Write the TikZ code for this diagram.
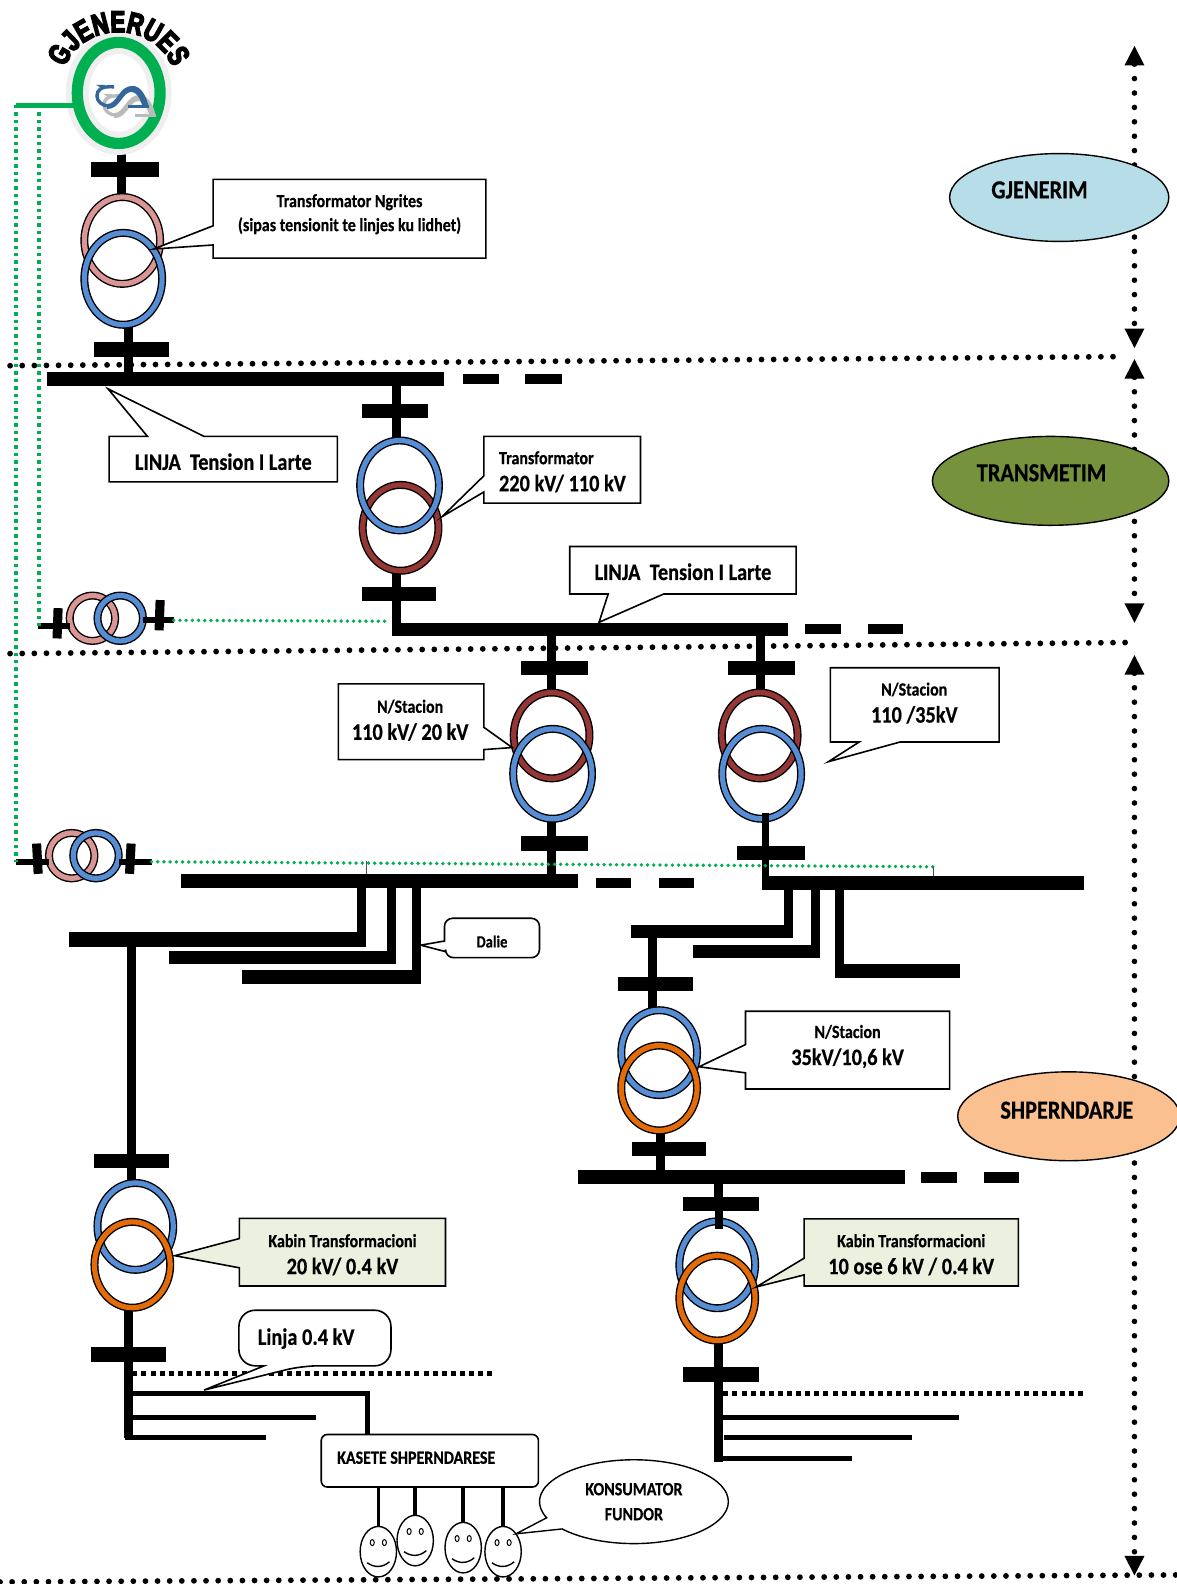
\documentclass[tikz,border=0pt]{standalone}
\usepackage{fontspec}
\usetikzlibrary{shapes.geometric,shapes.callouts,arrows.meta,decorations.text,calc}
\setmainfont{Carlito}
\newfontfamily\labfont[FakeStretch=0.86,FakeBold=0.5]{Carlito Bold}
\newfontfamily\gjfont[FakeStretch=0.74,FakeBold=5]{Liberation Sans Bold}
\newcommand\fs{\labfont\fontsize{9.3}{13.5}\selectfont}
\newcommand\fl{\labfont\fontsize{11.8}{13.5}\selectfont}
\newcommand\fo{\labfont\fontsize{13}{15}\selectfont}
\def\ux{0.5051pt}
\definecolor{rpink}{HTML}{D99694}
\definecolor{rblue}{HTML}{558ED5}
\definecolor{rbrown}{HTML}{953735}
\definecolor{rorange}{HTML}{E36C09}
\definecolor{rgreen}{HTML}{00B050}
\definecolor{lblue}{HTML}{B7DEE8}
\definecolor{olive}{HTML}{76923C}
\definecolor{peach}{HTML}{FAC090}
\definecolor{lgreen}{HTML}{EBF1DE}
\definecolor{halo}{HTML}{EFEFEF}
\definecolor{logob}{HTML}{336699}
\definecolor{logog}{HTML}{BBBBBB}
\pgfdeclarelayer{back}
\pgfsetlayers{back,main}
\tikzset{
 bus/.style={fill=black,draw=none,inner sep=0,outer sep=0},
 stem/.style={line width=4.5pt,black},
 feeder/.style={line width=2.5pt,black},
 ring/.style={ellipse,inner sep=0,outer sep=0,draw=black,line width=0.7pt,double=#1,double distance=2.6pt},
 tagbox/.style={draw=black,line width=0.8pt,fill=white,line join=miter},
 tagtext/.style={inner sep=0,outer sep=0,align=center,font=\fs},
 oval/.style={ellipse,draw=black,line width=0.7pt,inner sep=0,outer sep=0,font=\fo},
 gdot/.style={rgreen,line width=1.7pt,dash pattern=on 1.7pt off 2pt},
 rdot/.style={rgreen,line width=1.9pt,line cap=round,dash pattern=on 0pt off 3.1pt},
 blackdot/.style={black,line width=2.9pt,line cap=round,dash pattern=on 0pt off 6.06pt},
 sidedot/.style={black,line width=2.8pt,line cap=round,dash pattern=on 0pt off 7.2pt,
   {Triangle[width=9.2pt,length=10pt]}-{Triangle[width=9.2pt,length=10pt]}},
 squaredot/.style={black,line width=2.5pt,dash pattern=on 2.5pt off 2.05pt},
 thinv/.style={line width=0.4pt,black!70},
 face/.style={ellipse,draw=black,line width=0.7pt,fill=white,inner sep=0,outer sep=0,minimum width=36*\ux,minimum height=50*\ux},
 eye/.style={ellipse,draw=black,line width=0.5pt,fill=white,inner sep=0,outer sep=0,minimum width=4*\ux,minimum height=6*\ux},
 wire/.style={line width=1.8pt,black},
 logoribbon/.pic={
   \draw[line width=1.7pt,pic actions] (113,86) .. controls (100,85) and (96,89) .. (96,95)
      .. controls (96,101) and (102,105) .. (108,105);
   \fill[pic actions] (106,103) .. controls (116,103) and (118,85) .. (131,85)
      .. controls (140,85) and (145,96) .. (147,105) -- (141,105) .. controls (138,96) and (135,91) .. (130,91)
      .. controls (121,91) and (119,108) .. (106,108) -- cycle;
   \draw[line width=1.3pt,pic actions] (147,105.5) -- (127,105.5);
   \fill[pic actions] (95,84) -- (104,84) -- (102,88) -- cycle;
 },
}
\newcommand\busbar[5]{%
 \pgfmathsetmacro\bcx{(#2+#4)/2}\pgfmathsetmacro\bcy{(#3+#5)/2}%
 \pgfmathsetmacro\bwd{abs(#4-#2)}\pgfmathsetmacro\bht{abs(#5-#3)}%
 \node[bus,minimum width=\bwd*\ux,minimum height=\bht*\ux] (#1) at (\bcx,\bcy) {};}
\newcommand\rng[6]{\node[ring=#2,minimum width=#5*\ux,minimum height=#6*\ux] (#1) at (#3,#4) {};}
\begin{document}
\begin{tikzpicture}[x=0.5051pt,y=-0.5051pt]
\useasboundingbox (0,0) rectangle (1164.2,1568);

% ---- region separators and side arrows
\coordinate (d1a) at (10,362); \coordinate (d1b) at (1108,353);
\coordinate (d2a) at (10,647); \coordinate (d2b) at (1117,636);
\coordinate (d3a) at (0,1566); \coordinate (d3b) at (1164,1559);
\coordinate (a1t) at (1123,45);  \coordinate (a1b) at (1123,345);
\coordinate (a2t) at (1123,355); \coordinate (a2b) at (1123,617);
\coordinate (a3t) at (1123,648); \coordinate (a3b) at (1123,1560);
\begin{pgfonlayer}{back}
\fill[white] (0,0) rectangle (1164.2,1568);
\draw[blackdot] (d1a) -- (d1b);
\draw[blackdot] (d2a) -- (d2b);
\draw[blackdot] (d3a) -- (d3b);
\draw[sidedot] (a1t) -- (a1b);
\draw[sidedot] (a2t) -- (a2b);
\draw[sidedot] (a3t) -- (a3b);
\end{pgfonlayer}

% ---- region ovals
\node[oval,fill=lblue,minimum width=217*\ux,minimum height=87*\ux] (ogj) at (1048.5,195.5) {};
\node[font=\fo,inner sep=0] (ogjt) at (1029,188) {GJENERIM};
\node[oval,fill=olive,minimum width=234*\ux,minimum height=88*\ux] (otr) at (1040,476) {};
\node[font=\fo,inner sep=0] (otrt) at (1031,468) {TRANSMETIM};
\node[oval,fill=peach,minimum width=220*\ux,minimum height=88*\ux] (osh) at (1058,1105) {};
\node[font=\fo,inner sep=0] (osht) at (1056,1099) {SHPERNDARJE};

% ---- generator
\node[ellipse,inner sep=0,outer sep=0,draw=halo,line width=11.5pt,minimum width=82*\ux,minimum height=100*\ux] (genh) at (117.5,92) {};
\node[ellipse,inner sep=0,outer sep=0,draw=rgreen,line width=5.6pt,minimum width=82*\ux,minimum height=100*\ux] (gen) at (117.5,92) {};
\path[decorate,decoration={text along path,text={|\gjfont\fontsize{15}{15}\selectfont|GJENERUES},text align=center}]
  (62,73) .. controls (77,18) and (157,18) .. (173,73);
% logo
\pic[logog] at (7,9) {logoribbon};
\pic[logob] at (0,0) {logoribbon};

% ---- bus bars
\busbar{gbar}{90}{160}{157}{175}
\busbar{t1bar}{93}{339}{167}{353}
\busbar{bush}{47}{368}{440}{382}
\busbar{bushd1}{458}{370}{494}{380}
\busbar{bushd2}{520}{370}{556}{380}
\busbar{t2bart}{358}{400}{424}{414}
\busbar{t2barb}{358}{581}{432}{595}
\busbar{busm}{388}{617}{780}{630}
\busbar{busmd1}{797}{618}{832}{628}
\busbar{busmd2}{859}{618}{894}{628}
\busbar{t3bart}{516}{654}{582}{668}
\busbar{t4bart}{721}{654}{787}{668}
\busbar{t3barb}{516}{828}{582}{842}
\busbar{t4barb}{730}{837}{797}{851}
\busbar{busl}{179}{865}{572}{879}
\busbar{busld1}{590}{869}{625}{879}
\busbar{busld2}{652}{869}{687}{879}
\busbar{busr}{754}{867}{1073}{881}
\busbar{la}{68}{923}{357}{937}
\busbar{lb}{167}{941}{392}{954}
\busbar{lc}{240}{960}{416}{974}
\busbar{ra}{625}{916}{780}{929}
\busbar{rb}{686}{935}{812}{948}
\busbar{rc}{827}{954}{950}{968}
\busbar{t5bart}{612}{967}{686}{981}
\busbar{t5barb}{626}{1130}{699}{1144}
\busbar{buss}{572}{1158}{896}{1172}
\busbar{bussd1}{912}{1160}{947}{1171}
\busbar{bussd2}{974}{1160}{1009}{1171}
\busbar{t6bart}{93}{1142}{167}{1156}
\busbar{t6barb}{90}{1333}{164}{1348}
\busbar{t7bart}{676}{1185}{751}{1199}
\busbar{t7barb}{676}{1353}{751}{1368}

% ---- transformers
\rng{t1a}{rpink}{121}{238}{75}{86}
\rng{t1b}{rblue}{122}{276}{77}{91}
\rng{t2b}{rbrown}{396.5}{522.5}{75}{85}
\rng{t2a}{rblue}{395.5}{480.5}{78}{89}
\rng{t3a}{rbrown}{546}{728}{75}{85}
\rng{t3b}{rblue}{547}{766}{78}{89}
\rng{t4a}{rbrown}{752}{728}{75}{85}
\rng{t4b}{rblue}{754}{766}{78}{89}
\rng{t5a}{rblue}{652.5}{1042}{75}{84}
\rng{t5b}{rorange}{652.5}{1077}{75}{84}
\rng{t6a}{rblue}{134}{1214}{75}{86}
\rng{t6b}{rorange}{131}{1252}{75}{85}
\rng{t7a}{rblue}{710}{1252}{75}{86}
\rng{t7b}{rorange}{710}{1285}{75}{84}
\rng{sa1}{rpink}{91.5}{612}{45}{45}
\rng{sa2}{rblue}{119}{612}{45}{45}
\rng{sb1}{rpink}{71}{847}{45}{45}
\rng{sb2}{rblue}{95}{847}{45}{45}

% ---- small auxiliary bars (tilted)
\node[bus,minimum width=9*\ux,minimum height=30*\ux,rotate=-2] (sabl) at (57,617) {};
\node[bus,minimum width=9*\ux,minimum height=30*\ux,rotate=-2] (sabr) at (158,609) {};
\node[bus,minimum width=9*\ux,minimum height=30*\ux,rotate=3] (sbbl) at (37,850) {};
\node[bus,minimum width=9*\ux,minimum height=30*\ux,rotate=-3] (sbbr) at (129,850) {};
\coordinate (saL) at (38,620); \coordinate (saR) at (172,614);
\coordinate (sbL) at (16,853); \coordinate (sbR) at (150,853);

% ---- stems (behind rings)
\begin{pgfonlayer}{back}
\draw[stem] (120.5,0 |- gen.south) -- (120.5,0 |- t1a.north);
\draw[stem] (127,0 |- t1b.south) -- (127,0 |- bush.center);
\draw[stem] (392,0 |- bush.center) -- (392,0 |- t2a.north);
\draw[stem] (392.5,0 |- t2b.south) -- (392.5,0 |- busm.south);
\draw[stem] (546,0 |- busm.center) -- (546,0 |- t3a.north);
\draw[stem] (753,0 |- busm.center) -- (753,0 |- t4a.north);
\draw[stem] (546,0 |- t3b.south) -- (546,0 |- busl.center);
\draw[stem] (646,0 |- ra.center) -- (646,0 |- t5a.north);
\draw[stem] (654,0 |- t5b.south) -- (654,0 |- buss.center);
\draw[stem] (130.3,0 |- la.center) -- (130.3,0 |- t6a.north);
\draw[stem] (127.5,0 |- t6b.south) -- (127.5,0 |- t6barb.center);
\draw[stem] (711.5,0 |- buss.center) -- (711.5,0 |- t7bart.center);
\draw[stem] (711.5,0 |- t7b.south) -- (711.5,0 |- t7barb.center);
\end{pgfonlayer}
% stems that run over the ring
\coordinate (t4in) at (758,805);
\draw[stem,line width=6.5*\ux] (t4in) -- (t4in |- busr.south);
\coordinate (t7in) at (711.5,1217);
\draw[stem,line width=8*\ux] (t7bart.center -| t7in) -- (t7in);
% feeders of the busbars
\draw[stem] (358,0 |- busl.center) -- (358,0 |- la.south);
\draw[stem] (388,0 |- busl.center) -- (388,0 |- lb.south);
\draw[stem] (412,0 |- busl.center) -- (412,0 |- lc.south);
\draw[stem] (780.5,0 |- busr.center) -- (780.5,0 |- ra.south);
\draw[stem] (807.5,0 |- busr.center) -- (807.5,0 |- rb.south);
\draw[stem] (831,0 |- busr.center) -- (831,0 |- rc.south);
% auxiliary transformer leads
\draw[line width=6*\ux] (saL) -- (saL -| sa1.west);
\draw[line width=6*\ux] (saR) -- (saR -| sa2.east);
\draw[line width=6*\ux] (sbL) -- (sbL -| sb1.west);
\draw[line width=6*\ux] (sbR) -- (sbR -| sb2.east);

% ---- LV side
\coordinate (l1) at (127.5,1423);
\draw[stem] (t6barb.center -| l1) -- (l1);
\coordinate (l1e) at (263,1423); \coordinate (l2s) at (132,1403); \coordinate (l2e) at (313,1403);
\coordinate (l3s) at (132,1379); \coordinate (l3c) at (364,1379);
\coordinate (ls1) at (131,1360); \coordinate (ls2) at (489,1360);
\draw[feeder] ($(l1)+(-4,0)$) -- (l1e);
\draw[feeder] (l2s) -- (l2e);
\draw[squaredot] (ls1) -- (ls2);
\node[draw=black,line width=0.8pt,fill=white,rounded corners=6*\ux,inner sep=0,outer sep=0,minimum width=215*\ux,minimum height=52*\ux] (kas) at (425.5,1446) {};
\node[inner sep=0,font=\fs] (kast) at (412,1443) {KASETE SHPERNDARESE};
\draw[feeder] (l3s) -- (l3c) -- (l3c |- kas.north);

\coordinate (r1) at (711.5,1447);
\draw[stem] (t7barb.center -| r1) -- (r1);
\coordinate (r1e) at (843,1444); \coordinate (r2s) at (717,1423); \coordinate (r2e) at (903,1423);
\coordinate (r3s) at (716,1403); \coordinate (r3e) at (949,1403);
\coordinate (rs1) at (716,1379); \coordinate (rs2) at (1073,1379);
\draw[feeder] ($(r1)+(-4,-3)$) -- (r1e);
\draw[feeder] (r2s) -- (r2e);
\draw[feeder] (r3s) -- (r3e);
\draw[squaredot] (rs1) -- (rs2);

% ---- consumers
\foreach \nm/\fx/\fy in {fa/374.5/1536,fb/411/1525,fc/458.5/1532,fd/498/1536}{
  \node[face] (\nm) at (\fx,\fy) {};
  \draw[wire] (\fx,0 |- kas.south) -- (\nm.north);
  \node[eye] (\nm l) at ($(\nm.center)+(-6,-9)$) {};
  \node[eye] (\nm r) at ($(\nm.center)+(6,-9)$) {};
  \draw[line width=0.7pt] ($(\nm.center)+(-11,11)$) .. controls ($(\nm.center)+(-4,16)$) and ($(\nm.center)+(4,16)$) .. ($(\nm.center)+(11,10)$);
}
\node[ellipse callout,draw=black,line width=0.7pt,fill=white,inner sep=0,outer sep=0,minimum width=187*\ux,minimum height=83*\ux,
   callout absolute pointer={(fd.north east)},callout pointer arc=18,align=center,font=\fs] (kon) at (627.5,1486.5) {KONSUMATOR\\[-1pt]FUNDOR};

% ---- callouts
\draw[tagbox] (211,177.5) -- (481,177.5) -- (481,255.5) -- (211,255.5) -- (211,242.5) -- (152,246.5) -- (211,223.5) -- cycle;
\node[tagtext] (c1) at (346,212) {Transformator Ngrites\\[-1.5pt](sipas tensionit te linjes ku lidhet)};

\draw[tagbox] (108,432) -- (146,432) -- (107,385) -- (202,432) -- (334,432) -- (334,477) -- (108,477) -- cycle;
\node[tagtext,font=\fl] (c2) at (221,457) {LINJA\ \ Tension I Larte};

\draw[tagbox] (479,432) -- (634,432) -- (634,498) -- (479,498) -- (479,487) -- (437.5,511.5) -- (479,471) -- cycle;
\node[tagtext,align=left,anchor=west] (c3) at (494,467) {\fs Transformator\\\fl 220 kV/ 110 kV};

\draw[tagbox] (564,541) -- (788,541) -- (788,588) -- (657,588) -- (593,616) -- (602,588) -- (564,588) -- cycle;
\node[tagtext,font=\fl] (c4) at (676,566) {LINJA\ \ Tension I Larte};

\draw[tagbox] (335,677) -- (479,677) -- (479,720) -- (507,740) -- (479,742) -- (479,752) -- (335,752) -- cycle;
\node[tagtext] (c5) at (406,713) {\fs N/Stacion\\\fl 110 kV/ 20 kV};

\draw[tagbox] (822,661) -- (989,661) -- (989,734.5) -- (891,734.5) -- (820,754) -- (850.5,734.5) -- (822,734.5) -- cycle;
\node[tagtext] (c6) at (905,696) {\fs N/Stacion\\\fl 110 /35kV};

\draw[tagbox] (738,1001) -- (940,1001) -- (940,1078) -- (738,1078) -- (738,1062) -- (692,1056) -- (738,1034) -- cycle;
\node[tagtext] (c7) at (839,1036) {\fs N/Stacion\\\fl 35kV/10,6 kV};

\draw[tagbox,fill=lgreen] (237,1206) -- (441,1206) -- (441,1273) -- (237,1273) -- (237,1255) -- (173,1243) -- (237,1226) -- cycle;
\node[tagtext] (c8) at (339,1242) {\fs Kabin Transformacioni\\\fl 20 kV/ 0.4 kV};

\draw[tagbox,fill=lgreen] (796,1206.5) -- (1008,1206.5) -- (1008,1273) -- (796,1273) -- (796,1262) -- (748.5,1274) -- (796,1245.5) -- cycle;
\node[tagtext] (c9) at (902,1242) {\fs Kabin Transformacioni\\\fl 10 ose 6 kV / 0.4 kV};

\draw[tagbox] (440,931.5) [rounded corners=8*\ux] -- (440,909) -- (534,909) -- (534,948) -- (441,948) [sharp corners] -- (441,942) -- (416.5,935.6) -- cycle;
\node[tagtext,font=\labfont\fontsize{8.5}{10}\selectfont] (c10) at (487,932) {Dalie};

\draw[tagbox] (261.5,1352) [rounded corners=16*\ux] -- (236.5,1352) -- (236.5,1297) -- (387,1297) -- (387,1352) -- (299,1352) [sharp corners] -- (202,1376) -- cycle;
\node[tagtext,font=\fl] (c11) at (303,1325) {Linja 0.4 kV};

% ---- green auxiliary supply
\coordinate (g0) at (16,104); \coordinate (g1) at (38.5,104);
\draw[rgreen,line width=5*\ux] (gen.west |- g0) -- (g0);
\draw[gdot] (g0) -- (sbL);
\draw[gdot] (g1) -- (g1 |- saL);
\coordinate (gm) at (386,615);
\draw[rdot] (saR) -- (gm);
\coordinate (ge) at (924,858);
\draw[rdot] (sbR) -- (ge);
\draw[thinv] (ge) -- (ge |- busr.north);
\coordinate (gl) at (363,852);
\draw[thinv] (gl) -- (gl |- busl.north);
\end{tikzpicture}
\end{document}
